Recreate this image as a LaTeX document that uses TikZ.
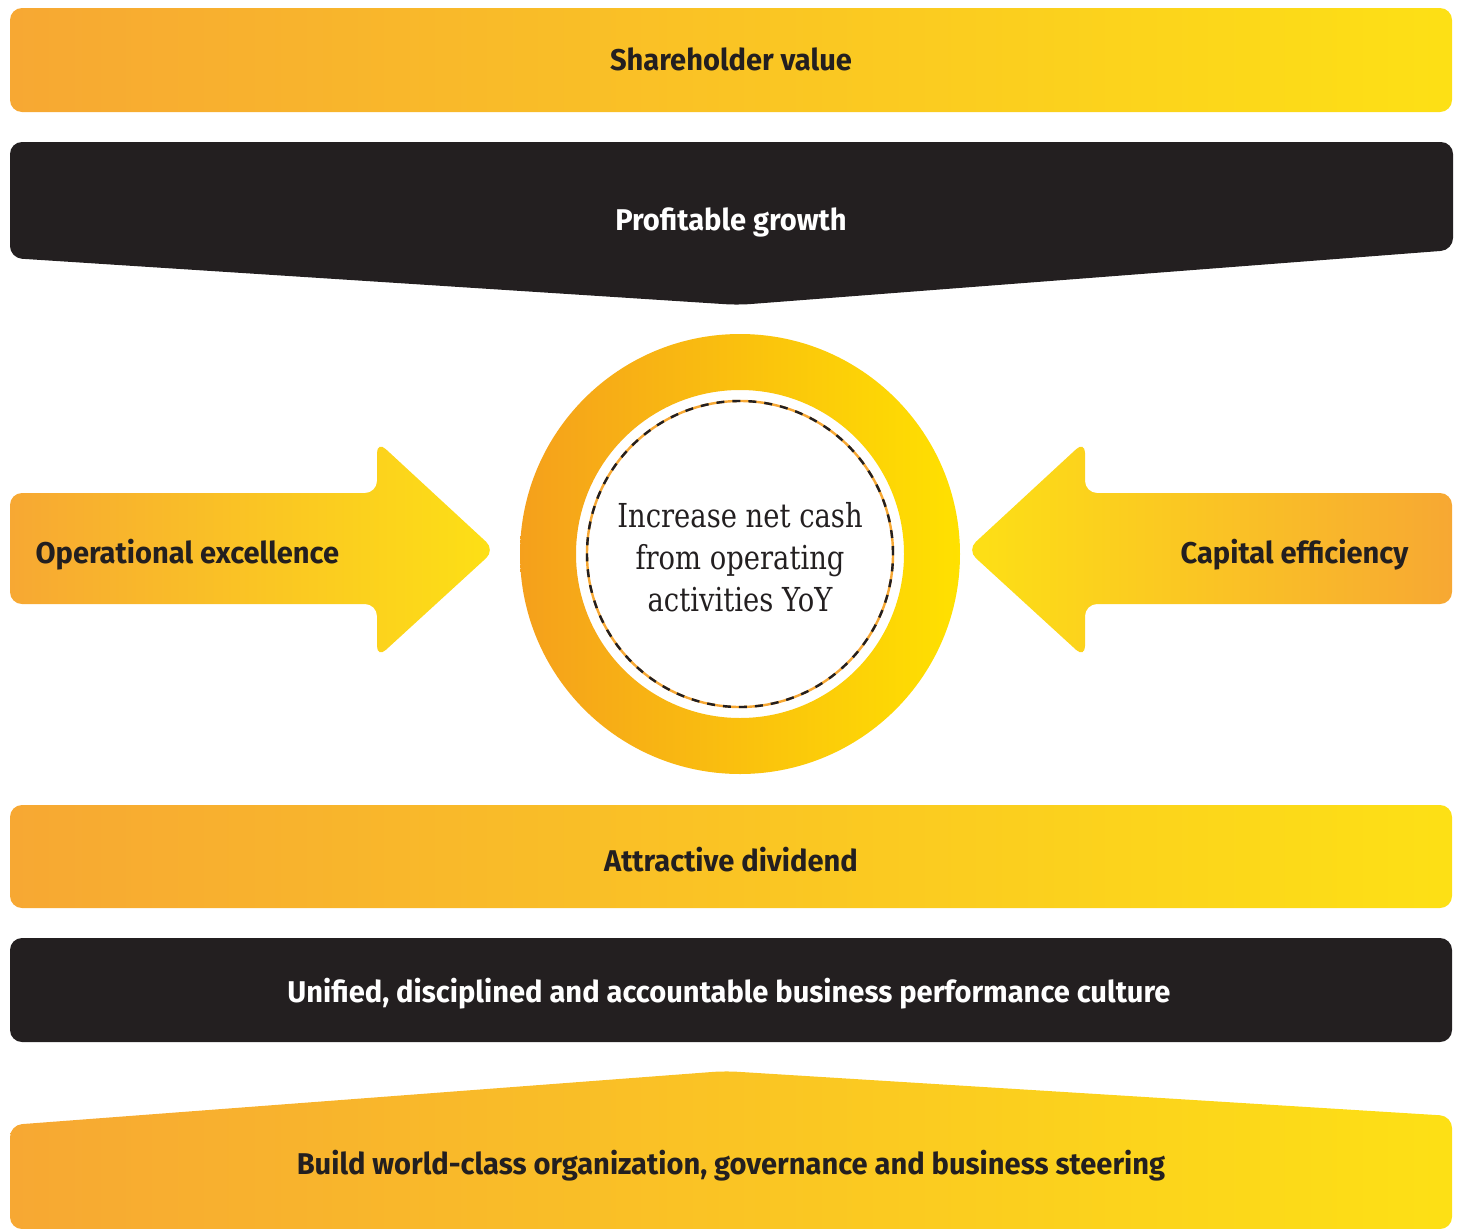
\documentclass[tikz,border=0pt]{standalone}
\usepackage{fontspec}
\setsansfont[FakeStretch=0.97]{Fira Sans}
\newfontfamily\slabfont[FakeStretch=0.83]{DejaVu Serif}

\definecolor{barL}{HTML}{F7A833}
\definecolor{barR}{HTML}{FDE015}
\definecolor{ringL}{HTML}{F5A01C}
\definecolor{ringR}{HTML}{FFE100}
\definecolor{ink}{HTML}{231F20}

\begin{document}
\begin{tikzpicture}[x=1pt,y=-1pt,
  bar/.style={rounded corners=12pt,left color=barL,right color=barR},
  rbar/.style={rounded corners=12pt,left color=barR,right color=barL},
  dark bar/.style={rounded corners=12pt,fill=ink},
  main text/.style={font=\sffamily\bfseries\fontsize{30}{36}\selectfont,text=ink},
  white text/.style={main text,text=white}]

  \useasboundingbox (0,0) rectangle (1460,1229);

  % bands from top to bottom
  \shade[bar] (10,8) rectangle (1452,112);
  \fill[dark bar] (738,305) -- (10,258) -- (10,142) -- (1453,142)
    -- (1453,250) -- cycle;
  \shade[bar] (10,805) rectangle (1452,908);
  \fill[dark bar] (10,938) rectangle (1452,1042);
  \shade[bar] (10,1229) -- (10,1125) -- (725,1071) -- (1452,1116)
    -- (1452,1229) -- cycle;

  % side arrows
  \shade[bar] (10,493) -- (377,493) -- (377,441) -- (495,550)
    -- (377,658) -- (377,604) -- (10,604) -- cycle;
  \shade[rbar] (1452,493) -- (1085,493) -- (1085,441) -- (967,550)
    -- (1085,658) -- (1085,604) -- (1452,604) -- cycle;

  % ring with dashed inner circle
  \coordinate (c) at (740,554);
  \shade[left color=ringL,right color=ringR,even odd rule]
    (c) circle[radius=220pt] (c) circle[radius=164pt];
  \draw[barL,line width=2.4pt] (c) circle[radius=153pt];
  \draw[ink,line width=2.4pt,dash pattern=on 8pt off 8pt] (c) circle[radius=153pt];

  \node[main text] (sv) at (731,59) {Shareholder value};
  \node[white text] (pg) at (731,222) {Profitable growth};
  \node[main text,anchor=west] (oe) at (32,555) {Operational excellence};
  \node[main text,anchor=east] (ce) at (1412,555) {Capital efficiency};
  \node[align=center,text=ink,font=\slabfont\fontsize{33}{42}\selectfont]
    (cash) at (740,557) {Increase net cash\\from operating\\activities YoY};
  \node[main text] (ad) at (731,860) {Attractive dividend};
  \node[white text] (uc) at (729,994)
    {Unified, disciplined and accountable business performance culture};
  \node[main text] (wc) at (731,1166)
    {Build world-class organization, governance and business steering};
\end{tikzpicture}
\end{document}
